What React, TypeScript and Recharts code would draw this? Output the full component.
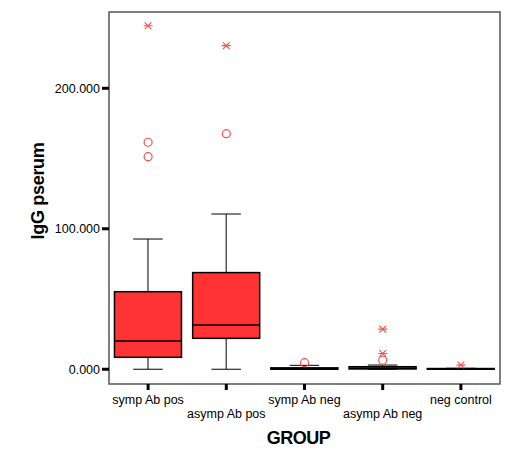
import React from 'react';
import { ComposedChart, Bar, Scatter, XAxis, YAxis, ReferenceArea } from 'recharts';

const groups = ['symp Ab pos', 'asymp Ab pos', 'symp Ab neg', 'asymp Ab neg', 'neg control'];
const whiskerLow = [0, 0, 0, 0, 0];
const q1 = [8.5, 22.0, 0.0, 0.2, 0.0];
const median = [20.1, 31.5, 0.4, 0.8, 0.2];
const q3 = [55.2, 68.8, 1.0, 1.8, 0.5];
const whiskerHigh = [92.7, 110.5, 2.8, 3.0, 0.7];

// outliers: circles = mild, stars = extreme
const circleGroups = ['symp Ab pos', 'symp Ab pos', 'asymp Ab pos', 'symp Ab neg', 'asymp Ab neg'];
const circleValues = [161.6, 151.3, 167.7, 4.7, 6.4];
const starGroups = ['symp Ab pos', 'asymp Ab pos', 'asymp Ab neg', 'asymp Ab neg', 'neg control'];
const starValues = [244.5, 230.3, 28.5, 11.2, 3.0];

const yTicks = [0, 100, 200];
const yDomain = [-10.5, 254.3];

const FONT = '"Liberation Sans", Arial, Helvetica, sans-serif';
const BOX_RED = '#ff3333';
const OUT_RED = '#ff4d4d';

const boxData = groups.map((g, i) => ({
  group: g,
  lo: whiskerLow[i],
  q1: q1[i],
  med: median[i],
  q3: q3[i],
  hi: whiskerHigh[i],
}));
const circleData = circleGroups.map((g, i) => ({ group: g, v: circleValues[i] }));
const starData = starGroups.map((g, i) => ({ group: g, v: starValues[i] }));

const BoxShape = (props: any) => {
  const { x, y, width, height, payload } = props;
  if (!payload) return null;
  const { lo, hi } = payload;
  const span = hi - lo || 1;
  const py = (v: number) => y + (height * (hi - v)) / span;
  const cx = x + width / 2;
  const cap = width * 0.22;
  return (
    <g>
      <line x1={cx} x2={cx} y1={py(hi)} y2={py(payload.q3)} stroke="#000" strokeWidth={1} />
      <line x1={cx} x2={cx} y1={py(payload.q1)} y2={py(lo)} stroke="#000" strokeWidth={1} />
      <line x1={cx - cap} x2={cx + cap} y1={py(hi)} y2={py(hi)} stroke="#000" strokeWidth={1} />
      <line x1={cx - cap} x2={cx + cap} y1={py(lo)} y2={py(lo)} stroke="#000" strokeWidth={1} />
      <rect
        x={x}
        y={py(payload.q3)}
        width={width}
        height={Math.max(py(payload.q1) - py(payload.q3), 0.5)}
        fill={BOX_RED}
        stroke="#000"
        strokeWidth={1.5}
      />
      <line x1={x} x2={x + width} y1={py(payload.med)} y2={py(payload.med)} stroke="#000" strokeWidth={1.5} />
    </g>
  );
};

const CircleMark = (p: any) => (
  <circle cx={p.cx} cy={p.cy} r={4} fill="none" stroke={OUT_RED} strokeWidth={1.2} />
);

const StarMark = (p: any) => {
  const r = 4.5;
  const d = r * 0.75;
  return (
    <g stroke={OUT_RED} strokeWidth={1.2}>
      <line x1={p.cx - r} x2={p.cx + r} y1={p.cy} y2={p.cy} />
      <line x1={p.cx - d} x2={p.cx + d} y1={p.cy - d} y2={p.cy + d} />
      <line x1={p.cx - d} x2={p.cx + d} y1={p.cy + d} y2={p.cy - d} />
    </g>
  );
};

const XTick = (props: any) => {
  const { x, y, payload, index } = props;
  return (
    <text x={x} y={y} dy={index % 2 ? 26 : 12} textAnchor="middle" fill="#000" fontSize={12.5} fontFamily={FONT}>
      {payload.value}
    </text>
  );
};

const YTitle = (props: any) => {
  const vb = props.viewBox || {};
  const cy = vb.y + vb.height / 2 - 7;
  return (
    <text
      x={38}
      y={cy}
      transform={`rotate(-90, 38, ${cy})`}
      textAnchor="middle"
      dominantBaseline="central"
      fontSize={18}
      fontWeight="bold"
      letterSpacing={-0.3}
      fontFamily={FONT}
      fill="#000"
    >
      IgG pserum
    </text>
  );
};

export default function App() {
  return (
    <div style={{ position: 'absolute', left: 0, top: 0, background: '#fff' }}>
      <ComposedChart width={508} height={450} data={boxData} margin={{ top: 12, right: 8, left: 0, bottom: 0 }} barCategoryGap="7%">
        <XAxis
          dataKey="group"
          allowDuplicatedCategory={false}
          interval={0}
          height={66}
          axisLine={false}
          tickLine={{ stroke: '#000', strokeWidth: 3 }}
          tickSize={6}
          tick={<XTick />}
          label={{ value: 'GROUP', position: 'insideBottom', offset: 6, dx: -6, fontSize: 18, fontWeight: 'bold', fill: '#000', fontFamily: FONT, letterSpacing: -0.5 }}
        />
        <YAxis
          width={109}
          type="number"
          domain={yDomain}
          allowDataOverflow
          ticks={yTicks}
          tickFormatter={(v: number) => v.toFixed(3)}
          axisLine={false}
          tickLine={{ stroke: '#000', strokeWidth: 3 }}
          tickSize={7}
          tickMargin={2}
          tick={{ fill: '#000', fontSize: 12.5, fontFamily: FONT }}
          label={<YTitle />}
        />
        <Bar dataKey={(d: any) => [d.lo, d.hi]} shape={<BoxShape />} isAnimationActive={false} />
        <Scatter data={circleData} dataKey="v" shape={<CircleMark />} isAnimationActive={false} />
        <Scatter data={starData} dataKey="v" shape={<StarMark />} isAnimationActive={false} />
        <ReferenceArea
          x1={groups[0]}
          x2={groups[groups.length - 1]}
          y1={yDomain[0]}
          y2={yDomain[1]}
          fill="none"
          fillOpacity={0}
          stroke="#555"
          strokeWidth={1.5}
          ifOverflow="visible"
        />
      </ComposedChart>
    </div>
  );
}
